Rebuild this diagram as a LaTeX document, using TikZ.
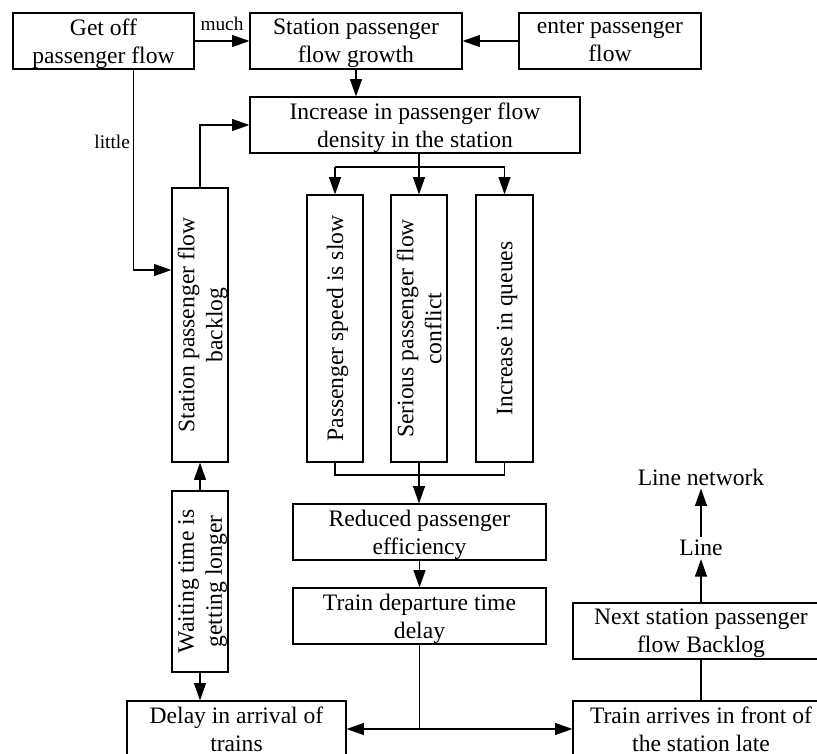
\documentclass[tikz,border=0pt]{standalone}
\usepackage{fontspec}
\setmainfont{Liberation Serif}
\usetikzlibrary{positioning,arrows.meta,calc}

\begin{document}
\begin{tikzpicture}[
    x=0.75pt, y=-0.75pt,
    line width=0.9pt,
    font=\fontsize{17.7}{21}\selectfont,
    box/.style={draw, align=center, inner sep=0pt, minimum height=42pt, text depth=0pt},
    vbox/.style={box, rotate=90},
    arr/.style={-{Triangle[length=13pt,width=9pt]}},
    lbl/.style={font=\fontsize{14.5}{17}\selectfont, inner sep=2pt}
]
    \useasboundingbox (0,0) rectangle (817,753);

    % Top row: sources of passenger flow
    \node[box, minimum width=135.75pt] (getoff) at (103.5,41) {Get off\\passenger flow};
    \node[box, minimum width=159pt] (growth) at (356,41) {Station passenger\\flow growth};
    \node[box, minimum width=136.5pt] (enter) at (610,41) {enter passenger\\flow};
    \node[box, minimum width=247.5pt] (density) at (415,125) {Increase in passenger flow\\density in the station};

    % Vertical cards
    \node[vbox, minimum width=205.5pt] (backlog) at (200,325) {Station passenger flow\\backlog};
    \node[vbox, minimum width=200.25pt] (speed) at (335,328.5) {Passenger speed is slow};
    \node[vbox, minimum width=200.25pt] (conflict) at (419,328.5) {Serious passenger flow\\conflict};
    \node[vbox, minimum width=200.25pt, minimum height=42.75pt] (queues) at (504.5,328.5) {Increase in queues};
    \node[vbox, minimum width=135.75pt] (waiting) at (200,581.5) {Waiting time is\\getting longer};

    % Lower chain
    \node[box, minimum width=189.75pt] (reduced) at (419.5,532) {Reduced passenger\\efficiency};
    \node[box, minimum width=189.75pt] (departure) at (419.5,616) {Train departure time\\delay};
    \node[box, minimum width=164.25pt] (arrival) at (236.5,729) {Delay in arrival of\\trains};
    \node[box, minimum width=192pt] (trainlate) at (701,729) {Train arrives in front of\\the station late};
    \node[box, minimum width=192pt] (nextbacklog) at (701,631) {Next station passenger\\flow Backlog};
    \node[inner sep=2pt] (line) at (701,548) {Line};
    \node[inner sep=2pt] (linenet) at (701,477) {Line network};

    % Branch points
    \coordinate (split) at (419,167);
    \coordinate (merge) at (419,475);

    % Connectors
    \draw[arr] (getoff) -- node[lbl, above, yshift=5pt] {much} (growth);
    \draw[arr] (enter) -- (growth);
    \draw[arr] (growth.south) -- (growth.south |- density.north);
    \draw[arr] ($(getoff.south west)!0.663!(getoff.south east)$) |- node[lbl, pos=0.18, left] {little} ($(backlog.north)+(0,-55)$);
    \draw[arr] (backlog.east) |- (density.west);

    \draw (conflict.east |- density.south) -- (split);
    \draw (speed.east |- split) -- (queues.east |- split);
    \draw[arr] (speed.east |- split) -- (speed.east);
    \draw[arr] (split) -- (conflict.east);
    \draw[arr] (queues.east |- split) -- (queues.east);

    \draw (speed.west) |- (queues.west |- merge) -- (queues.west);
    \draw[arr] (conflict.west) -- (conflict.west |- reduced.north);
    \draw[arr] (reduced.south) -- (departure.north);
    \draw[arr] (departure.south) |- (arrival.east);
    \draw[arr] (departure.south) |- (trainlate.west);

    \draw[arr] (waiting.east) -- (backlog.west);
    \draw[arr] (waiting.west) -- (waiting.west |- arrival.north);

    \draw (trainlate.north) -- (nextbacklog.south);
    \draw[arr] (nextbacklog.north) -- (line.south);
    \draw[arr] (line.north) -- (linenet.south);

\end{tikzpicture}
\end{document}
